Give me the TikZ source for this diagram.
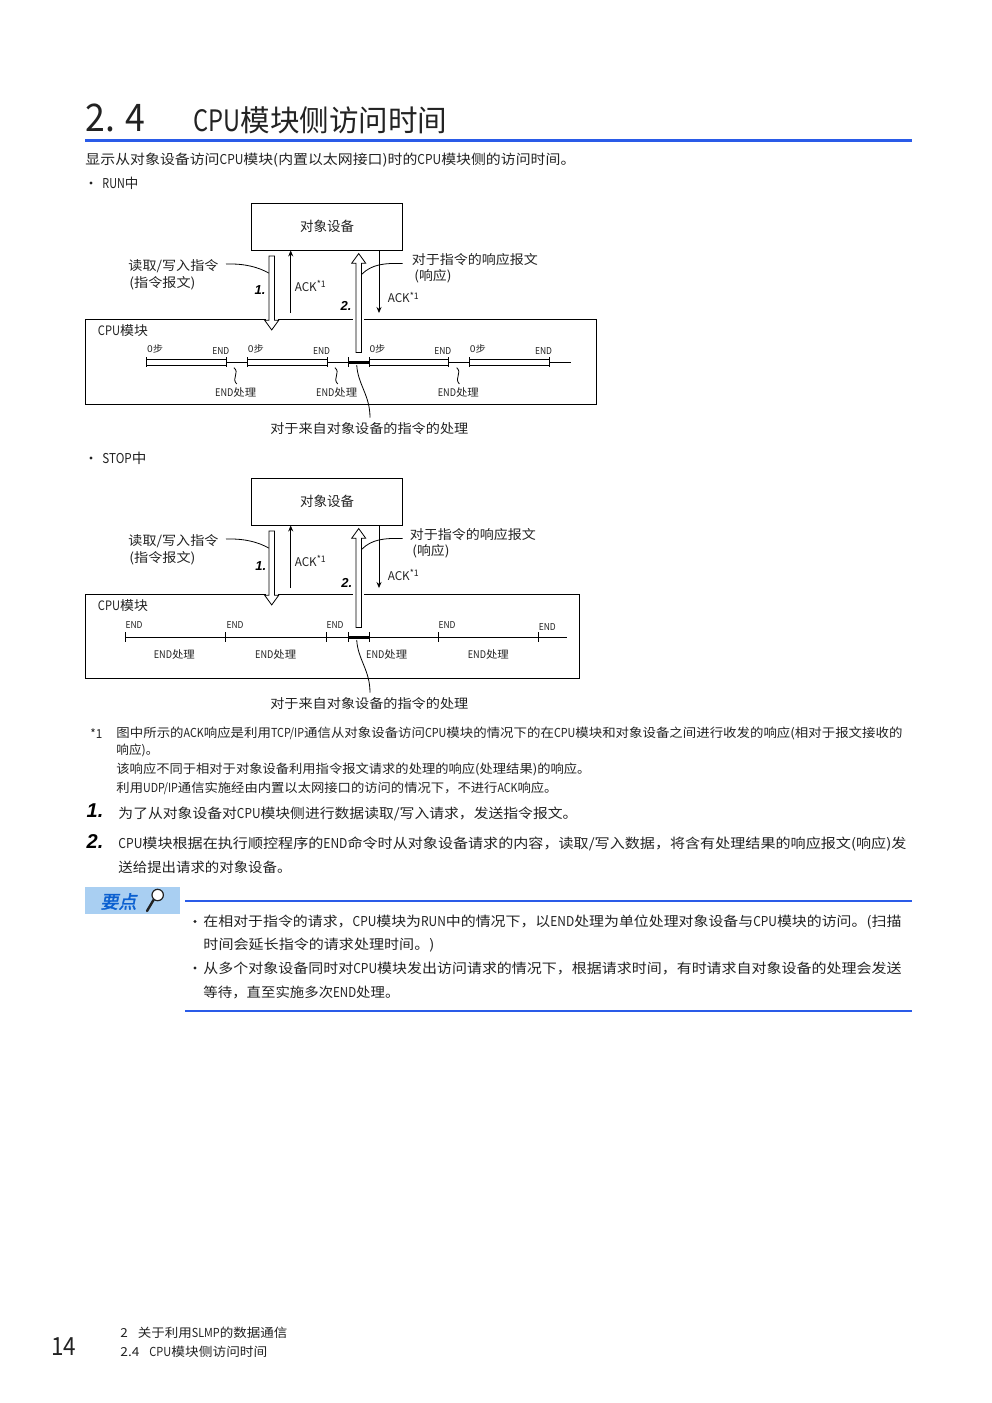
\documentclass[tikz,border=0pt]{standalone}
\usepackage{graphicx}
\usepackage{fontspec}
\setmainfont{Noto Sans CJK SC}
\newfontfamily\stepfont{Liberation Sans}
\newfontfamily\keyfont[FakeSlant=0.2,FakeBold=2]{Noto Sans CJK SC}
\usetikzlibrary{arrows.meta,shapes.arrows}
\definecolor{ruleblue}{HTML}{2A5BE8}
\definecolor{keyfill}{HTML}{A9CFF2}
\definecolor{keyblue}{HTML}{0A5FD0}
\definecolor{inkgray}{HTML}{222222}
% half-width latin, and a line squeezed to a measured width
\newcommand{\lat}[1]{\scalebox{.8}[1]{#1}}
\newcommand{\fitw}[2]{\resizebox{#1pt}{\height}{#2}}
\newcommand{\acklab}{ACK\raisebox{3.5pt}{\fontsize{9}{9}\selectfont *1}}
\tikzset{
  txt/.style={anchor=west,inner sep=0pt,yshift=-0.8pt,text=inkgray,font=\fontsize{14}{14}\selectfont},
  body/.style={txt,font=\fontsize{13.6}{14}\selectfont},
  note/.style={txt,font=\fontsize{12.4}{13}\selectfont},
  lab/.style={inner sep=0pt,yshift=-0.8pt,text=inkgray,font=\fontsize{13}{13}\selectfont},
  tiny/.style={inner sep=0pt,text=inkgray,font=\fontsize{9.5}{10}\selectfont},
  stepno/.style={inner sep=0pt,font=\fontsize{20}{20}\stepfont\bfseries\itshape},
  diagno/.style={inner sep=0pt,font=\fontsize{13}{13}\stepfont\bfseries\itshape},
  hollow/.style={shape=single arrow,draw,fill=white,inner xsep=0pt,inner ysep=2.4pt,
    single arrow head extend=4.2pt,single arrow tip angle=72,line width=0.8pt},
  ackarrow/.style={line width=0.8pt,-{Stealth[length=6pt,width=5pt]}},
  leader/.style={line width=0.8pt},
  bluerule/.style={ruleblue,line width=2pt},
}
\begin{document}
\begin{tikzpicture}[x=1pt,y=-1pt,line width=0.9pt]
\useasboundingbox (0,0) rectangle (992,1403);
% ---- heading ----
\node[txt,font=\fontsize{38}{38}\selectfont] (secno) at (85,117) {\fitw{60}{2. 4}};
\node[txt,font=\fontsize{29.5}{30}\selectfont] (sectitle) at (193,120) {\fitw{254}{\lat{CPU}模块侧访问时间}};
\draw[ruleblue,line width=3pt] (85,140.5) -- (912,140.5);
% ---- running text above and below the diagrams ----
\foreach \s/\x/\w/\r/\t in {
  body/85/490/159/{显示从对象设备访问\lat{CPU}模块(内置以太网接口)时的\lat{CPU}模块侧的访问时间。},
  body/102/36/182.5/{\lat{RUN}中},
  body/102/44/457.5/{\lat{STOP}中},
  note/90/12/732.5/{*1},
  note/116/786/732.5/{图中所示的\lat{ACK}响应是利用\lat{TCP/IP}通信从对象设备访问\lat{CPU}模块的情况下的在\lat{CPU}模块和对象设备之间进行收发的响应(相对于报文接收的},
  note/116/42/750/{响应)。},
  note/116/474/769/{该响应不同于相对于对象设备利用指令报文请求的处理的响应(处理结果)的响应。},
  note/116/441/788/{利用\lat{UDP/IP}通信实施经由内置以太网接口的访问的情况下，不进行\lat{ACK}响应。},
  body/118/459/813/{为了从对象设备对\lat{CPU}模块侧进行数据读取/写入请求，发送指令报文。},
  body/118/788/843/{\lat{CPU}模块根据在执行顺控程序的\lat{END}命令时从对象设备请求的内容，读取/写入数据，将含有处理结果的响应报文(响应)发},
  body/118/173/867/{送给提出请求的对象设备。},
  body/203/698/921.5/{在相对于指令的请求，\lat{CPU}模块为\lat{RUN}中的情况下，以\lat{END}处理为单位处理对象设备与\lat{CPU}模块的访问。(扫描},
  body/203/231/944.5/{时间会延长指令的请求处理时间。)},
  body/203/698/968/{从多个对象设备同时对\lat{CPU}模块发出访问请求的情况下，根据请求时间，有时请求自对象设备的处理会发送},
  body/203/196/991.5/{等待，直至实施多次\lat{END}处理。}%
}{
  \node[\s] (line\r-\x) at (\x,\r) {\fitw{\w}{\t}};
}
\foreach \x/\r in {91/183,91/458,195/921.5,195/968} \fill[inkgray] (\x,\r) circle (1.6);
\node[stepno] (stepa) at (95,811) {1.};
\node[stepno] (stepb) at (95,842) {2.};
% ---- what both diagrams share ----
\foreach \p/\dy/\rx/\ny in {run/0/411.5/0, stop/275/409.5/1}{
  \node[draw,inner sep=0pt,minimum width=151.5pt,minimum height=47pt,
        font=\fontsize{13.5}{14}\selectfont,text=inkgray] (tgt\p) at (327,226.5+\dy) {对象设备};
  \node[lab,anchor=west] (cmd\p) at (128,265.5+\dy) {\fitw{90}{读取/写入指令}};
  \node[lab,anchor=west] (cmdb\p) at (129,282+\dy) {\fitw{66}{(指令报文)}};
  \node[lab,anchor=west] (resp\p) at (\rx,258.5+\dy) {\fitw{126}{对于指令的响应报文}};
  \node[lab,anchor=west] (respb\p) at (\rx+2.5,275.5+\dy) {\fitw{37}{(响应)}};
  \node[lab,anchor=west] (cpu\p) at (97.5,330+\dy) {\fitw{50}{\lat{CPU}模块}};
  \node[lab] (proc\p) at (369.3,427.5+\dy) {\fitw{198}{对于来自对象设备的指令的处理}};
  \node[lab,anchor=west,font=\fontsize{12}{12}\selectfont] (acka\p) at (294.3,285+\dy) {\fitw{31}{\acklab}};
  \node[lab,anchor=west,font=\fontsize{12}{12}\selectfont] (ackb\p) at (387.3,296.5+\dy+\ny*2.5) {\fitw{31}{\acklab}};
  \node[diagno] (numa\p) at (260+\ny*0.7,290+\dy+\ny) {1.};
  \node[diagno] (numb\p) at (346+\ny*0.7,306+\dy+\ny*1.7) {2.};
  % acknowledgement arrows
  \coordinate (ackup\p) at (290.7,313+\dy);
  \coordinate (ackdn\p) at (379,313+\dy);
  \draw[ackarrow] (ackup\p) -- (ackup\p |- tgt\p.south);
  \draw[ackarrow] (ackdn\p |- tgt\p.south) -- (ackdn\p);
  % curved leaders
  \coordinate (cmdhit\p) at (269.3,273.3+\dy);
  \coordinate (resphit\p) at (361.7,274.3+\dy);
  \coordinate (cmdfoot\p) at (226,264+\dy);
  \coordinate (respfoot\p) at (402.7,263.5+\dy);
  \draw[leader] (cmdfoot\p) .. controls (245,263.5+\dy) and (258,267+\dy) .. (cmdhit\p);
  \draw[leader] (respfoot\p) .. controls (385,263+\dy) and (372,264+\dy) .. (resphit\p);
  \coordinate (bar\p) at (356.7,365+\dy);
  \coordinate (proctop\p) at (370,417.7+\dy);
  \draw[leader] (bar\p) .. controls (358,385+\dy) and (370,395+\dy) .. (proctop\p);
}
% ---- CPU module frames ----
\draw (85.7,319) rectangle (596,404);
\draw (85.7,594) rectangle (579,678.7);
\foreach \dy in {0,275} \fill[white] (353,317+\dy) rectangle (364,321+\dy);
\foreach \dy in {0,275} \fill[white] (265.5,317+\dy) rectangle (278,321+\dy);
% ---- timeline while running ----
\draw (146.7,362.3) -- (570.7,362.3);
\foreach \a/\b in {146.7/226.3, 247.3/327, 369/448.3, 469.3/549}{
  \draw[line width=0.7pt,fill=white] (\a,359.3) rectangle (\b,365.3);
  \node[tiny] (zero\a) at (\a+8.5,349) {\fitw{16}{0步}};
  \node[tiny] (endr\b) at (\b-5.5,350.7) {\fitw{17}{END}};
}
\foreach \x in {146.7,226.3,247.3,327,348,369,448.3,469.3,549}
  \draw[line width=1pt] (\x,357.3) -- (\x,367.3);
\draw[line width=2.4pt] (348,362.3) -- (369,362.3);
\foreach \x in {234,335,456.7}
  \draw[leader] (\x,367.7) .. controls (\x+6,373) and (\x-3,378) .. (\x+2.7,384);
\foreach \x in {235.7,336.7,458.3}
  \node[tiny,font=\fontsize{10.5}{11}\selectfont] (endp\x) at (\x,393) {\fitw{41}{\lat{END}处理}};
% ---- timeline while stopped ----
\draw (125,637.3) -- (567.3,637.3);
\foreach \x in {125,225.7,326.3,348,369,438.3,538.3}
  \draw[line width=1pt] (\x,632.3) -- (\x,642.3);
\draw[line width=2.4pt] (348,637.3) -- (369,637.3);
\foreach \x/\r in {134/625, 235/625, 335/625, 447/625, 547.3/627}
  \node[tiny] (ends\x) at (\x,\r) {\fitw{17}{END}};
\foreach \x in {174.3,275.7,386.7,488.3}
  \node[tiny,font=\fontsize{10.5}{11}\selectfont] (endq\x) at (\x,654.5) {\fitw{41}{\lat{END}处理}};
% ---- hollow command and response arrows ----
\foreach \p/\dy in {run/0, stop/275}{
  \node[hollow,minimum height=74pt,rotate=-90] (cmdarrow\p) at (271.7,291+\dy) {};
  \node[hollow,minimum height=99pt,rotate=90] (resparrow\p) at (358.7,305+\dy) {};
}
% ---- key point box ----
\node[fill=keyfill,inner sep=0pt,minimum width=95pt,minimum height=27pt] (keybox) at (132.5,900.5) {};
\node[inner sep=0pt,text=keyblue,font=\fontsize{18}{18}\keyfont] (keytext) at (118.5,901.5) {要点};
\coordinate (lensc) at (157.7,895);
\coordinate (lensh) at (147,911);
\draw[line width=2.4pt,inkgray,line cap=round] (153.8,899.5) -- (lensh);
\draw[line width=1.2pt,fill=white,draw=inkgray] (lensc) circle (5.7);
\draw[bluerule] (185,900.5) -- (912,900.5);
\draw[bluerule] (185,1010.5) -- (912,1010.5);
% ---- footer ----
\node[txt,font=\fontsize{25}{25}\selectfont] (pageno) at (51,1346) {\fitw{25}{14}};
\node[note] (foota) at (120,1332) {\fitw{167}{2\hspace{9pt}关于利用\lat{SLMP}的数据通信}};
\node[note] (footb) at (120,1351) {\fitw{147}{2.4\hspace{9pt}\lat{CPU}模块侧访问时间}};
\end{tikzpicture}
\end{document}
